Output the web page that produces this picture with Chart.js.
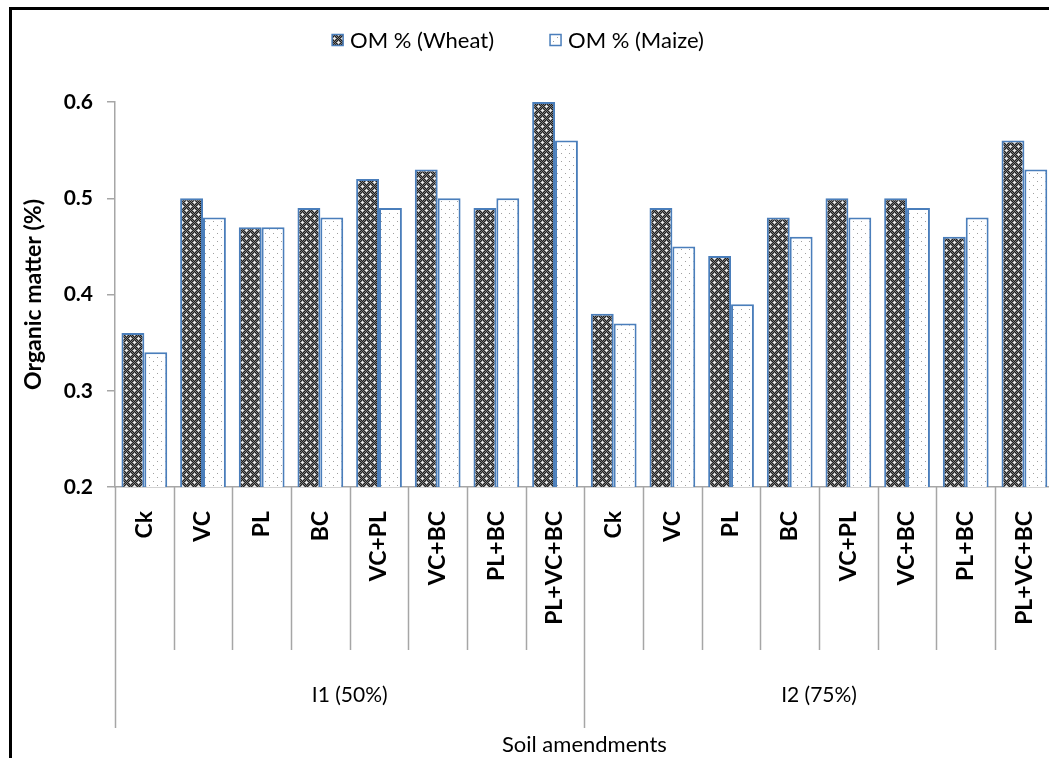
<!DOCTYPE html>
<html lang="en">
<head>
<meta charset="UTF-8">
<title>Organic matter by soil amendment</title>
<script src="https://cdn.jsdelivr.net/npm/chart.js@4.4.1/dist/chart.umd.min.js"></script>
<style>
  html, body { margin: 0; padding: 0; background: #fff; overflow: hidden; }
  #frame {
    position: absolute; left: 9px; top: 7px; width: 1100px; height: 800px;
    border-left: 3px solid #000; border-top: 3px solid #000;
  }
  #wrap { position: absolute; left: 0; top: 0; width: 1076px; height: 758px; }
</style>
</head>
<body>
<div id="frame"></div>
<div id="wrap"><canvas id="omChart"></canvas></div>

<script>
// ---- data ----
const categories = ['Ck', 'VC', 'PL', 'BC', 'VC+PL', 'VC+BC', 'PL+BC', 'PL+VC+BC',
                    'Ck', 'VC', 'PL', 'BC', 'VC+PL', 'VC+BC', 'PL+BC', 'PL+VC+BC'];
const groups = ['I1 (50%)', 'I2 (75%)'];
const groupSize = 8;
const wheatOM = [0.36, 0.50, 0.47, 0.49, 0.52, 0.53, 0.49, 0.60,
                 0.38, 0.49, 0.44, 0.48, 0.50, 0.50, 0.46, 0.56];
const maizeOM = [0.34, 0.48, 0.47, 0.48, 0.49, 0.50, 0.50, 0.56,
                 0.37, 0.45, 0.39, 0.46, 0.48, 0.49, 0.48, 0.53];
const yMin = 0.2, yMax = 0.6, yStep = 0.1;

const FONT = 'Lato, "Open Sans", sans-serif';
const BLUE = '#4a7ebb';
const AXIS = '#a6a6a6';

// dark checker with white plus marks (wheat)
function wheatPattern() {
  const c = document.createElement('canvas');
  c.width = 8; c.height = 8;
  const g = c.getContext('2d');
  for (let y = 0; y < 8; y++) {
    for (let x = 0; x < 8; x++) {
      g.fillStyle = (x + y) % 2 ? '#1e1e1e' : '#7a7a7a';
      g.fillRect(x, y, 1, 1);
    }
  }
  g.fillStyle = '#e8e8e8';
  g.fillRect(1, 2, 3, 1); g.fillRect(2, 1, 1, 3);
  g.fillRect(5, 6, 3, 1); g.fillRect(6, 5, 1, 3);
  return g.createPattern(c, 'repeat');
}

// white with small grey dots (maize)
function maizePattern() {
  const c = document.createElement('canvas');
  c.width = 8; c.height = 8;
  const g = c.getContext('2d');
  g.fillStyle = '#ffffff';
  g.fillRect(0, 0, 8, 8);
  g.fillStyle = '#a0a0a0';
  g.fillRect(1, 1, 1, 1);
  g.fillRect(5, 5, 1, 1);
  return g.createPattern(c, 'repeat');
}

// legend, category dividers and group labels
const extras = {
  id: 'extras',
  afterDraw(chart) {
    const ctx = chart.ctx;
    const x = chart.scales.x;
    const top = x.top;
    const step = (x.right - x.left) / categories.length;
    ctx.save();

    // dividers under the axis
    ctx.strokeStyle = AXIS;
    ctx.lineWidth = 1.5;
    for (let i = 0; i <= categories.length; i++) {
      const px = Math.round(x.getPixelForValue(i) - step / 2) + 0.5;
      const len = (i % groupSize === 0) ? 241 : 163;
      ctx.beginPath();
      ctx.moveTo(px, top);
      ctx.lineTo(px, top + len);
      ctx.stroke();
    }

    // group labels
    ctx.fillStyle = '#000';
    ctx.font = '21px ' + FONT;
    ctx.textAlign = 'center';
    ctx.textBaseline = 'middle';
    groups.forEach((g, gi) => {
      const a = x.getPixelForValue(gi * groupSize) - step / 2;
      const b = x.getPixelForValue(gi * groupSize + groupSize - 1) + step / 2;
      ctx.fillText(g, (a + b) / 2, top + 208);
    });

    // legend
    ctx.font = '22px ' + FONT;
    ctx.textAlign = 'left';
    const box = 11, gapBox = 7, gapItem = 56;
    const sets = chart.data.datasets;
    const widths = sets.map(d => box + gapBox + ctx.measureText(d.label).width);
    const total = widths.reduce((s, w) => s + w, 0) + gapItem * (sets.length - 1);
    let lx = 518 - total / 2;
    const ly = 40;
    sets.forEach((d, i) => {
      ctx.fillStyle = d.backgroundColor;
      ctx.fillRect(lx, ly - box / 2, box, box);
      ctx.strokeStyle = d.borderColor;
      ctx.lineWidth = 1.5;
      ctx.strokeRect(lx, ly - box / 2, box, box);
      ctx.fillStyle = '#000';
      ctx.fillText(d.label, lx + box + gapBox, ly + 1);
      lx += widths[i] + gapItem;
    });
    ctx.restore();
  }
};

new Chart(document.getElementById('omChart'), {
  type: 'bar',
  data: {
    labels: categories,
    datasets: [{
      label: 'OM % (Wheat)',
      data: wheatOM,
      backgroundColor: wheatPattern(),
      borderColor: BLUE,
      borderWidth: 2,
      borderSkipped: 'start'
    }, {
      label: 'OM % (Maize)',
      data: maizeOM,
      backgroundColor: maizePattern(),
      borderColor: BLUE,
      borderWidth: 2,
      borderSkipped: 'start'
    }]
  },
  options: {
    responsive: true,
    maintainAspectRatio: false,
    animation: false,
    categoryPercentage: 0.78,
    barPercentage: 1.0,
    layout: { padding: { top: 102, right: 0, left: 0, bottom: 0 } },
    plugins: {
      legend: { display: false },
      tooltip: { enabled: false }
    },
    scales: {
      y: {
        min: yMin,
        max: yMax,
        ticks: {
          stepSize: yStep,
          color: '#000',
          font: { family: FONT, size: 21, weight: 'bold' },
          padding: 14,
          callback: v => v.toFixed(1)
        },
        grid: { drawOnChartArea: false, color: AXIS, lineWidth: 1.5, tickLength: 8 },
        border: { color: AXIS, width: 1.5 },
        title: {
          display: true,
          text: 'Organic matter (%)',
          color: '#000',
          font: { family: FONT, size: 23, weight: 'bold' },
          padding: { top: 20, bottom: 0 }
        },
        afterFit(scale) { scale.width = 115; }
      },
      x: {
        ticks: {
          color: '#000',
          font: { family: FONT, size: 23, weight: 'bold' },
          minRotation: 90,
          maxRotation: 90,
          autoSkip: false,
          padding: 24
        },
        grid: { display: false, drawTicks: false },
        border: { color: AXIS, width: 1.5 },
        title: {
          display: true,
          text: 'Soil amendments',
          color: '#000',
          font: { family: FONT, size: 22 },
          padding: { top: 0, bottom: 0 }
        },
        afterFit(scale) { scale.height = 271; }
      }
    }
  },
  plugins: [extras]
});
</script>
</body>
</html>
